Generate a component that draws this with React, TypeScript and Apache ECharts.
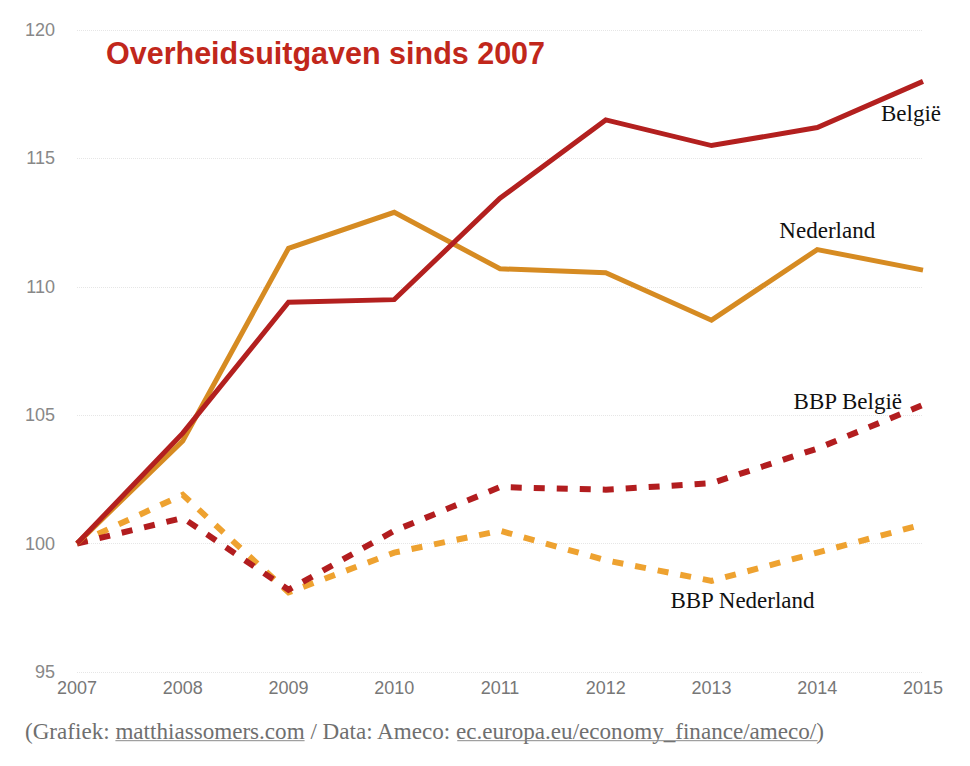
import React, { useEffect, useRef } from "react";
import * as echarts from "echarts";

const years = ["2007", "2008", "2009", "2010", "2011", "2012", "2013", "2014", "2015"];
const belgie = [100, 104.3, 109.4, 109.5, 113.45, 116.5, 115.5, 116.2, 118.0];
const nederland = [100, 104.0, 111.5, 112.9, 110.7, 110.55, 108.7, 111.45, 110.65];
const bbpBelgie = [100, 101.0, 98.2, 100.5, 102.2, 102.1, 102.35, 103.7, 105.4];
const bbpNederland = [100, 101.9, 98.1, 99.65, 100.5, 99.35, 98.55, 99.65, 100.75];

const titleText = "Overheidsuitgaven sinds 2007";
const footerParts = [
  { text: "(Grafiek: ", link: false },
  { text: "matthiassomers.com", link: true },
  { text: " / Data: Ameco: ", link: false },
  { text: "ec.europa.eu/economy_finance/ameco/", link: true },
  { text: ")", link: false },
];

const SERIF = '"Liberation Serif", "DejaVu Serif", serif';
const SANS = '"Liberation Sans", Arial, sans-serif';

export default function App() {
  const ref = useRef<HTMLDivElement>(null);

  useEffect(() => {
    if (!ref.current) return;
    const chart = echarts.init(ref.current, undefined, { renderer: "svg" });

    const solid = (name: string, data: number[], color: string, z: number) => ({
      name,
      type: "line",
      data,
      symbol: "none",
      z,
      lineStyle: { color, width: 5, cap: "butt", join: "miter" },
      emphasis: { disabled: true },
    });
    const dashed = (name: string, data: number[], color: string, z: number) => ({
      name,
      type: "line",
      data,
      symbol: "none",
      z,
      lineStyle: { color, width: 6, type: [11, 12], cap: "butt", join: "miter" },
      emphasis: { disabled: true },
    });

    chart.setOption({
      animation: false,
      grid: { left: 77, right: 47, top: 30, bottom: 94, containLabel: false },
      xAxis: {
        type: "category",
        data: years,
        boundaryGap: false,
        axisLine: { show: false },
        axisTick: { show: false },
        axisLabel: { color: "#777", fontSize: 18, fontFamily: SANS, margin: 7 },
        splitLine: { show: false },
      },
      yAxis: {
        type: "value",
        min: 95,
        max: 120,
        interval: 5,
        axisLine: { show: false },
        axisTick: { show: false },
        axisLabel: { color: "#888", fontSize: 18, fontFamily: SANS, margin: 22 },
        splitLine: { lineStyle: { color: "#e6e6e6", width: 1, type: "dotted" } },
      },
      series: [
        dashed("BBP Nederland", bbpNederland, "#eea230", 2),
        dashed("BBP België", bbpBelgie, "#b21d1f", 3),
        solid("Nederland", nederland, "#d68b22", 4),
        solid("België", belgie, "#b3201f", 5),
      ],
    });

    const px = (i: number, v: number) =>
      chart.convertToPixel({ gridIndex: 0 }, [years[i], v]) as number[];

    const labelStyle = { font: `23px ${SERIF}`, fill: "#111" };
    const labels: any[] = [];
    const pB = px(8, belgie[8]);
    labels.push({ type: "text", x: pB[0] + 18, y: pB[1] + 32, style: { ...labelStyle, text: "België", textAlign: "right", textVerticalAlign: "middle" } });
    const pN = px(7, nederland[7]);
    labels.push({ type: "text", x: pN[0] + 10, y: pN[1] - 19, style: { ...labelStyle, text: "Nederland", textAlign: "center", textVerticalAlign: "middle" } });
    const pBB = px(8, bbpBelgie[8]);
    labels.push({ type: "text", x: pBB[0] - 21, y: pBB[1] - 3, style: { ...labelStyle, text: "BBP België", textAlign: "right", textVerticalAlign: "middle" } });
    const pBN = px(6, bbpNederland[6]);
    labels.push({ type: "text", x: pBN[0] + 31, y: pBN[1] + 20, style: { ...labelStyle, text: "BBP Nederland", textAlign: "center", textVerticalAlign: "middle" } });

    // footer with measured underlines
    const canvas = document.createElement("canvas");
    const ctx = canvas.getContext("2d")!;
    const fullText = footerParts.map((p) => p.text).join("");
    ctx.font = `20px ${SERIF}`;
    const w20 = ctx.measureText(fullText).width || 800;
    const fSize = Math.round((20 * 800) / w20 * 10) / 10;
    ctx.font = `${fSize}px ${SERIF}`;
    const footerX = 25;
    const footerY = 731;
    const footerColor = "#6f6f6f";
    const footerEls: any[] = [
      { type: "text", x: footerX, y: footerY, style: { text: fullText, font: `${fSize}px ${SERIF}`, fill: footerColor, textAlign: "left", textVerticalAlign: "middle" } },
    ];
    let cx = footerX;
    footerParts.forEach((p) => {
      const w = ctx.measureText(p.text).width;
      if (p.link) {
        const uy = footerY + fSize * 0.42;
        footerEls.push({ type: "line", shape: { x1: cx, y1: uy, x2: cx + w, y2: uy }, style: { stroke: "#8a8a8a", lineWidth: 1 } });
      }
      cx += w;
    });

    chart.setOption({
      graphic: [
        { type: "text", x: 106, y: 53, style: { text: titleText, font: `bold 30.5px ${SANS}`, fill: "#c1271b", textAlign: "left", textVerticalAlign: "middle" } },
        ...labels,
        ...footerEls,
      ],
    });

    return () => chart.dispose();
  }, []);

  return (
    <div
      ref={ref}
      style={{ position: "fixed", left: 0, top: 0, width: 970, height: 766, background: "#fff" }}
    />
  );
}
